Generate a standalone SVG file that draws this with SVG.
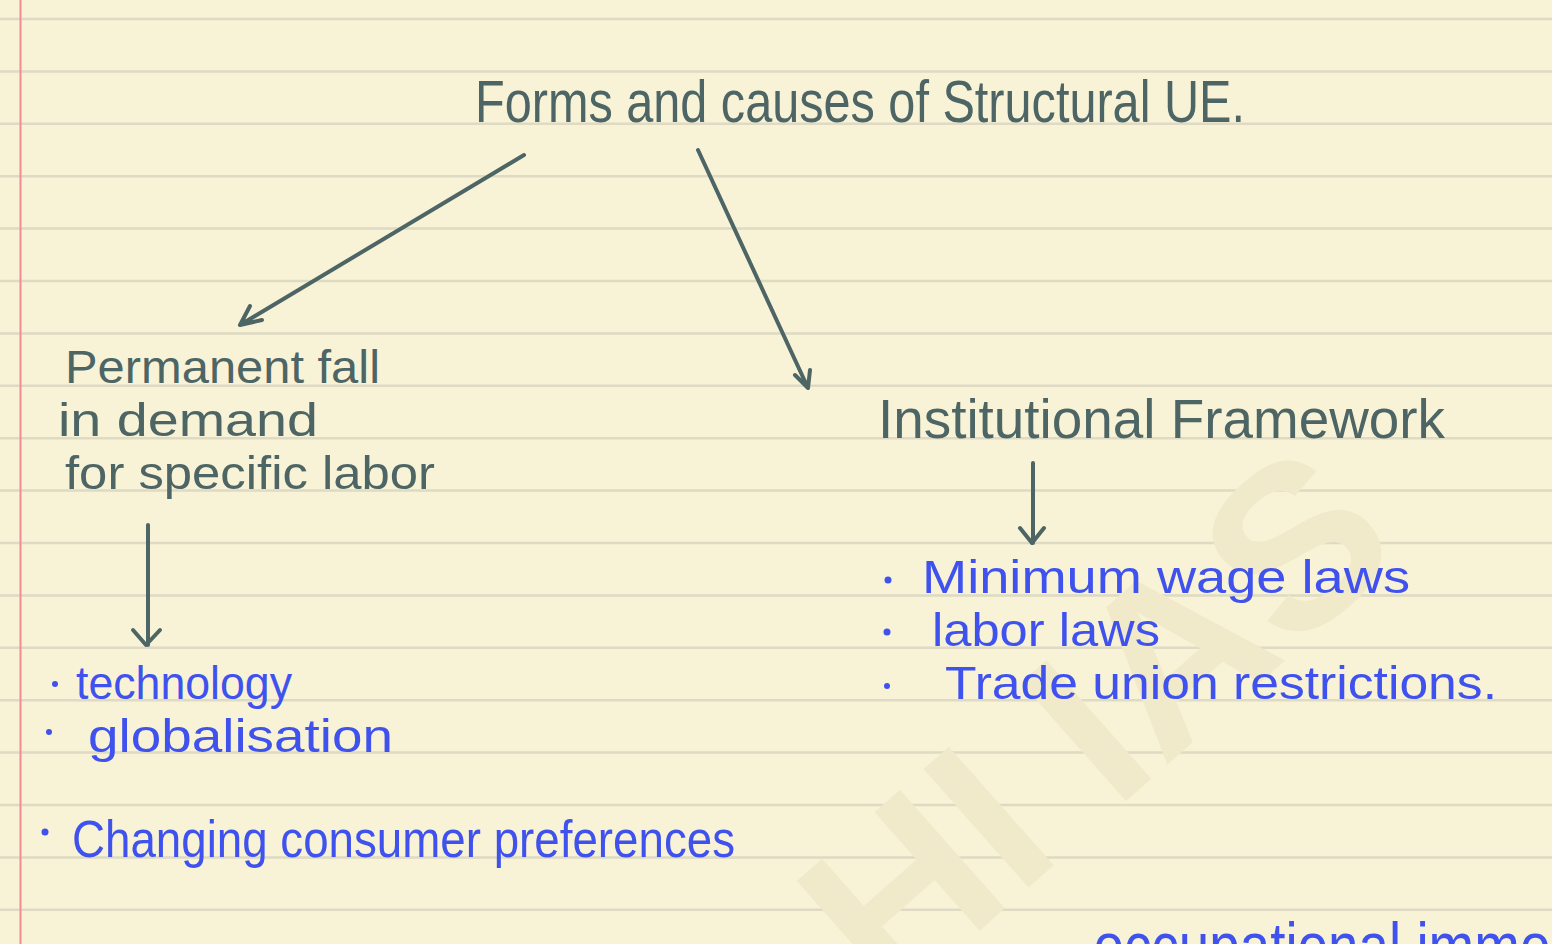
<svg xmlns="http://www.w3.org/2000/svg" width="1552" height="944" viewBox="0 0 1552 944">
<defs>
<style>
.rule{stroke:#dedac3;stroke-width:2.5}
.slate{fill:#4e6565;font-family:"Liberation Sans",Arial,sans-serif}
.blue{fill:#3f52ee;font-family:"Liberation Sans",Arial,sans-serif}
.con{stroke:#4e6565;stroke-width:4;fill:none;stroke-linecap:round;stroke-linejoin:round}
.dot{fill:#3f52ee}
</style>
</defs>
<rect width="1552" height="944" fill="#f8f3d6"/>
<g id="paper">
<line class="rule" x1="0" y1="19" x2="1552" y2="19"/>
<line class="rule" x1="0" y1="71.4" x2="1552" y2="71.4"/>
<line class="rule" x1="0" y1="123.8" x2="1552" y2="123.8"/>
<line class="rule" x1="0" y1="176.2" x2="1552" y2="176.2"/>
<line class="rule" x1="0" y1="228.6" x2="1552" y2="228.6"/>
<line class="rule" x1="0" y1="281" x2="1552" y2="281"/>
<line class="rule" x1="0" y1="333.4" x2="1552" y2="333.4"/>
<line class="rule" x1="0" y1="385.8" x2="1552" y2="385.8"/>
<line class="rule" x1="0" y1="438.2" x2="1552" y2="438.2"/>
<line class="rule" x1="0" y1="490.6" x2="1552" y2="490.6"/>
<line class="rule" x1="0" y1="543" x2="1552" y2="543"/>
<line class="rule" x1="0" y1="595.4" x2="1552" y2="595.4"/>
<line class="rule" x1="0" y1="647.8" x2="1552" y2="647.8"/>
<line class="rule" x1="0" y1="700.2" x2="1552" y2="700.2"/>
<line class="rule" x1="0" y1="752.6" x2="1552" y2="752.6"/>
<line class="rule" x1="0" y1="805" x2="1552" y2="805"/>
<line class="rule" x1="0" y1="857.4" x2="1552" y2="857.4"/>
<line class="rule" x1="0" y1="909.8" x2="1552" y2="909.8"/>
<line x1="20.5" y1="0" x2="20.5" y2="944" stroke="#ef8c94" stroke-width="2"/>
<text x="0" y="0" transform="translate(890,1010) rotate(-41.5)" font-family="Liberation Sans,Arial,sans-serif" font-weight="bold" font-size="230" fill="#f0eaca" textLength="690" lengthAdjust="spacingAndGlyphs">HI IAS</text>
</g>
<g id="connectors">
<path class="con" d="M524,155 L240,325 M240,325 L250,306 M240,325 L262,320"/>
<path class="con" d="M698,150 L808,388 M808,388 L810,370 M808,388 L795,375"/>
<path class="con" d="M148,525 L148,645 M133,630 L146,645 L160,630"/>
<path class="con" d="M1033,463 L1033,543 M1020,528 L1032,543 L1044,528"/>
</g>
<g id="title">
<text class="slate" x="475" y="122" font-size="60" textLength="770" lengthAdjust="spacingAndGlyphs">Forms and causes of Structural UE.</text>
</g>
<g id="permanent-fall">
<text class="slate" x="65" y="383" font-size="47" textLength="315" lengthAdjust="spacingAndGlyphs">Permanent fall</text>
<text class="slate" x="58" y="436" font-size="47" textLength="260" lengthAdjust="spacingAndGlyphs">in demand</text>
<text class="slate" x="65" y="489" font-size="47" textLength="370" lengthAdjust="spacingAndGlyphs">for specific labor</text>
</g>
<g id="left-list">
<circle class="dot" cx="55" cy="684" r="3"/>
<text class="blue" x="76" y="699" font-size="47" textLength="216" lengthAdjust="spacingAndGlyphs">technology</text>
<circle class="dot" cx="49" cy="732" r="3"/>
<text class="blue" x="88" y="752" font-size="47" textLength="305" lengthAdjust="spacingAndGlyphs">globalisation</text>
<circle class="dot" cx="45" cy="832" r="3.5"/>
<text class="blue" x="72" y="857" font-size="52" textLength="663" lengthAdjust="spacingAndGlyphs">Changing consumer preferences</text>
</g>
<g id="institutional">
<text class="slate" x="878" y="438" font-size="56" textLength="567" lengthAdjust="spacingAndGlyphs">Institutional Framework</text>
</g>
<g id="right-list">
<circle class="dot" cx="888" cy="580" r="3.5"/>
<text class="blue" x="922" y="593" font-size="47" textLength="488" lengthAdjust="spacingAndGlyphs">Minimum wage laws</text>
<circle class="dot" cx="887" cy="632" r="3.5"/>
<text class="blue" x="932" y="646" font-size="47" textLength="228" lengthAdjust="spacingAndGlyphs">labor laws</text>
<circle class="dot" cx="887" cy="686" r="3"/>
<text class="blue" x="945" y="699" font-size="47" textLength="552" lengthAdjust="spacingAndGlyphs">Trade union restrictions.</text>
</g>
<g id="bottom-note">
<text class="blue" x="1060" y="968" font-size="64" textLength="600" lengthAdjust="spacingAndGlyphs">- occupational immobility</text>
</g>
</svg>
